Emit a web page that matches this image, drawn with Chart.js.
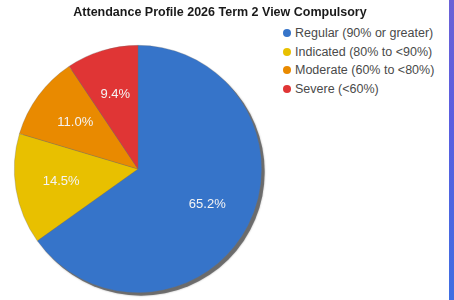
<!DOCTYPE html>
<html>
<head>
<meta charset="utf-8">
<script src="https://cdn.jsdelivr.net/npm/chart.js@4/dist/chart.umd.min.js"></script>
<style>
  html, body { margin: 0; padding: 0; background: #fff; }
  #wrap { position: relative; width: 454px; height: 300px; font-family: 'Liberation Sans', Arial, sans-serif; }
  #chart { position: absolute; left: 0; top: 0; }
  #title {
    position: absolute; left: 0; top: 5px; width: 440px; text-align: center;
    font-size: 12.5px; font-weight: bold; color: #1a1a1a;
  }
  #legend { position: absolute; left: 283px; top: 25px; }
  .item { height: 18.5px; line-height: 16px; font-size: 12.5px; color: #4a4a4a; white-space: nowrap; }
  .dot { display: inline-block; width: 8px; height: 8px; border-radius: 50%; margin-right: 4px; vertical-align: -0px; }
  #strip {
    position: absolute; left: 449px; top: 0; width: 5px; height: 300px;
    background: linear-gradient(#6b62d6, #5a5ee0 40%, #3f6ee2);
  }
</style>
</head>
<body>
<div id="wrap">
  <canvas id="chart" width="276" height="300"></canvas>
  <div id="title">Attendance Profile 2026 Term 2 View Compulsory</div>
  <div id="legend"></div>
  <div id="strip"></div>
</div>
<script>
const categories = ['Regular (90% or greater)', 'Indicated (80% to <90%)', 'Moderate (60% to <80%)', 'Severe (<60%)'];
const shares = [65.2, 14.5, 11.0, 9.4];
const sliceColors = ['#3674c9', '#e8c000', '#e98a00', '#e03535'];

const FONT = "'Liberation Sans', Arial, sans-serif";

// legend list built from the same arrays
const legendEl = document.getElementById('legend');
categories.forEach((name, i) => {
  const row = document.createElement('div');
  row.className = 'item';
  const dot = document.createElement('span');
  dot.className = 'dot';
  dot.style.background = sliceColors[i];
  row.appendChild(dot);
  row.appendChild(document.createTextNode(name));
  legendEl.appendChild(row);
});

// grey drop shadow under the whole pie
const pieShadow = {
  id: 'pieShadow',
  beforeDatasetsDraw(chart) {
    const arc = chart.getDatasetMeta(0).data[0];
    if (!arc) return;
    const ctx = chart.ctx;
    ctx.save();
    ctx.fillStyle = 'rgba(90,90,90,0.8)';
    ctx.shadowColor = 'rgba(0,0,0,0.4)';
    ctx.shadowBlur = 2;
    ctx.beginPath();
    ctx.arc(arc.x + 3, arc.y + 3, arc.outerRadius, 0, Math.PI * 2);
    ctx.fill();
    ctx.restore();
  },
};

// percentage text inside each slice
const sliceLabels = {
  id: 'sliceLabels',
  afterDatasetsDraw(chart) {
    const ctx = chart.ctx;
    ctx.save();
    ctx.fillStyle = '#f4f4f4';
    ctx.font = '13px ' + FONT;
    ctx.textAlign = 'center';
    ctx.textBaseline = 'middle';
    chart.getDatasetMeta(0).data.forEach((arc, i) => {
      const mid = (arc.startAngle + arc.endAngle) / 2;
      const r = arc.outerRadius * 0.63;
      ctx.fillText(shares[i].toFixed(1) + '%', arc.x + Math.cos(mid) * r, arc.y + Math.sin(mid) * r);
    });
    ctx.restore();
  },
};

new Chart(document.getElementById('chart').getContext('2d'), {
  type: 'pie',
  data: {
    labels: categories,
    datasets: [{
      data: shares,
      backgroundColor: sliceColors,
      borderColor: 'rgba(110,110,110,0.5)',
      borderWidth: 0.6,
    }],
  },
  options: {
    responsive: false,
    animation: false,
    layout: { padding: { left: 14, right: 14, top: 45, bottom: 7 } },
    plugins: {
      title: { display: false },
      legend: { display: false },
      tooltip: { enabled: false },
    },
  },
  plugins: [pieShadow, sliceLabels],
});
</script>
</body>
</html>
